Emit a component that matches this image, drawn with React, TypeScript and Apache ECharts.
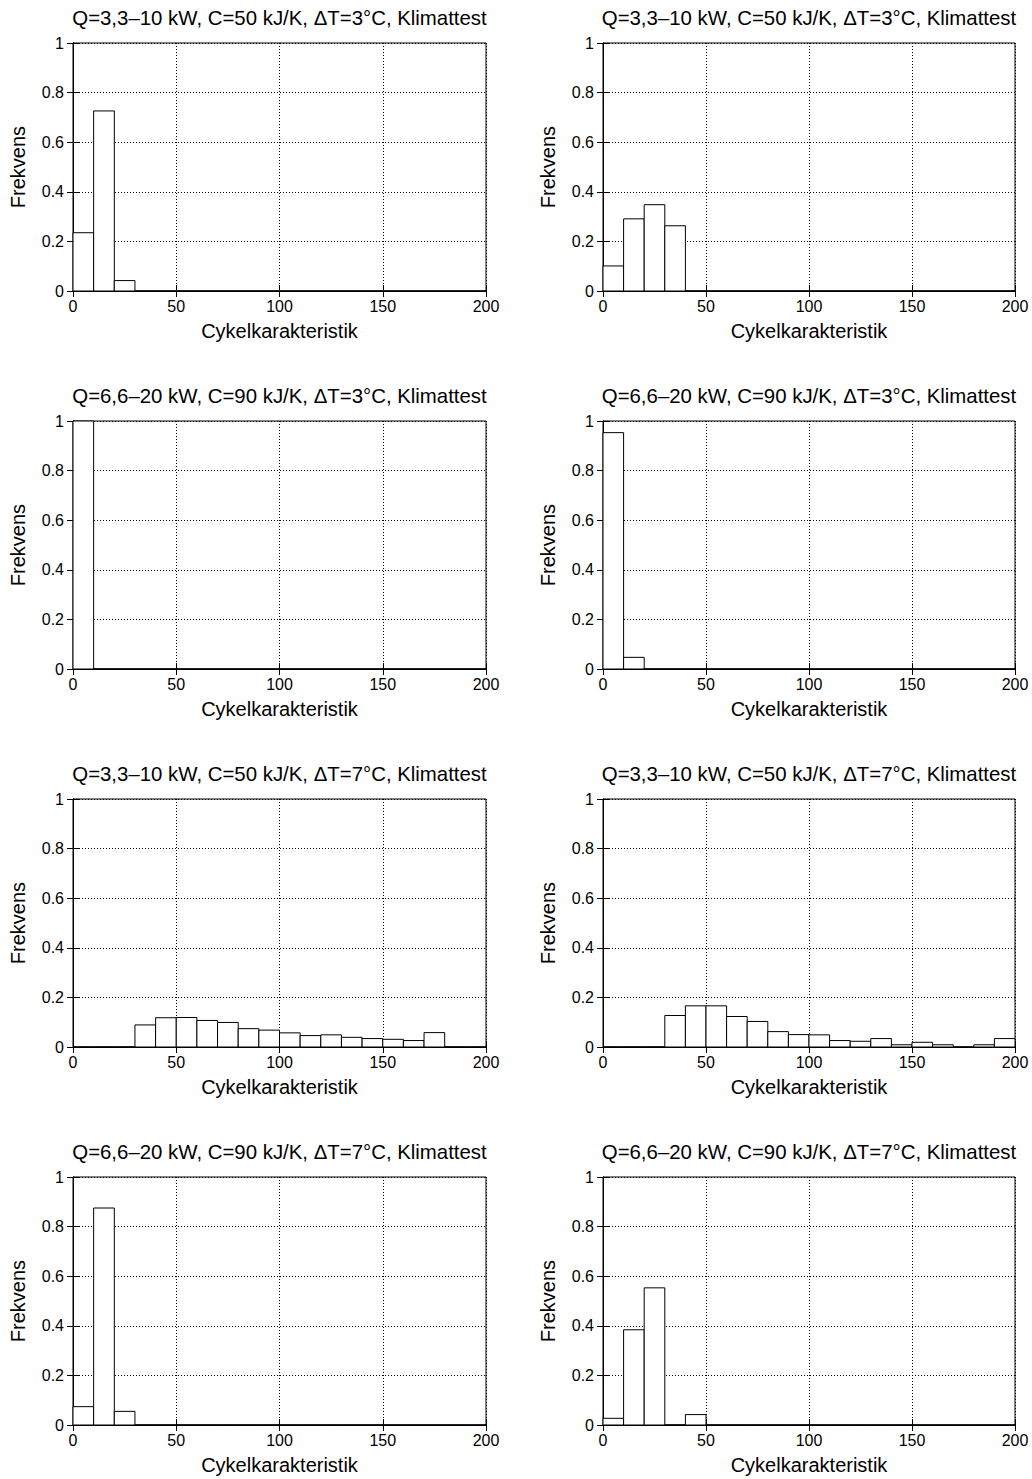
import React, { useEffect, useRef } from "react";
import * as echarts from "echarts";

// Bin edges (Cykelkarakteristik), width 10 from 0 to 200
const BIN_STARTS = [0, 10, 20, 30, 40, 50, 60, 70, 80, 90, 100, 110, 120, 130, 140, 150, 160, 170, 180, 190];
const BIN_WIDTH = 10;

const TITLE_A = "Q=3,3\u201310 kW, C=50 kJ/K, \u0394T=3\u00B0C, Klimattest";
const TITLE_B = "Q=6,6\u201320 kW, C=90 kJ/K, \u0394T=3\u00B0C, Klimattest";
const TITLE_C = "Q=3,3\u201310 kW, C=50 kJ/K, \u0394T=7\u00B0C, Klimattest";
const TITLE_D = "Q=6,6\u201320 kW, C=90 kJ/K, \u0394T=7\u00B0C, Klimattest";

const freq1L = [0.235, 0.726, 0.042, 0, 0, 0, 0, 0, 0, 0, 0, 0, 0, 0, 0, 0, 0, 0, 0, 0];
const freq1R = [0.101, 0.291, 0.348, 0.263, 0, 0, 0, 0, 0, 0, 0, 0, 0, 0, 0, 0, 0, 0, 0, 0];
const freq2L = [1.0, 0, 0, 0, 0, 0, 0, 0, 0, 0, 0, 0, 0, 0, 0, 0, 0, 0, 0, 0];
const freq2R = [0.953, 0.047, 0, 0, 0, 0, 0, 0, 0, 0, 0, 0, 0, 0, 0, 0, 0, 0, 0, 0];
const freq3L = [0, 0, 0, 0.089, 0.118, 0.119, 0.107, 0.099, 0.074, 0.068, 0.057, 0.046, 0.049, 0.039, 0.034, 0.031, 0.026, 0.058, 0, 0];
const freq3R = [0, 0, 0, 0.127, 0.166, 0.166, 0.123, 0.103, 0.062, 0.05, 0.049, 0.026, 0.023, 0.034, 0.009, 0.019, 0.009, 0, 0.009, 0.034];
const freq4L = [0.074, 0.875, 0.055, 0, 0, 0, 0, 0, 0, 0, 0, 0, 0, 0, 0, 0, 0, 0, 0, 0];
const freq4R = [0.027, 0.384, 0.553, 0, 0.042, 0, 0, 0, 0, 0, 0, 0, 0, 0, 0, 0, 0, 0, 0, 0];

const PANELS = [
  { title: TITLE_A, values: freq1L },
  { title: TITLE_A, values: freq1R },
  { title: TITLE_B, values: freq2L },
  { title: TITLE_B, values: freq2R },
  { title: TITLE_C, values: freq3L },
  { title: TITLE_C, values: freq3R },
  { title: TITLE_D, values: freq4L },
  { title: TITLE_D, values: freq4R },
];

const X_NAME = "Cykelkarakteristik";
const Y_NAME = "Frekvens";

const FONT = "'Liberation Sans', Arial, Helvetica, sans-serif";

export default function App() {
  const ref = useRef<HTMLDivElement>(null);

  useEffect(() => {
    document.body.style.margin = "0";
    const chart = echarts.init(ref.current!, null, { renderer: "svg" });

    const lefts = [73, 603];
    const widths = [413, 412];
    const tops = [43, 421, 799, 1177];
    const height = 248;

    const grids: any[] = [];
    const titles: any[] = [];
    const xAxes: any[] = [];
    const yAxes: any[] = [];
    const series: any[] = [];

    PANELS.forEach((p, i) => {
      const col = i % 2;
      const row = Math.floor(i / 2);
      const left = lefts[col];
      const width = widths[col];
      const top = tops[row];
      grids.push({
        left,
        top,
        width,
        height,
        show: true,
        borderColor: "#000",
        borderWidth: 1,
        backgroundColor: "#fff",
      });
      titles.push({
        text: p.title,
        left: left + width / 2,
        top: top - 35,
        padding: 0,
        textAlign: "center",
        textStyle: { fontFamily: FONT, fontSize: 20.4, fontWeight: "normal", color: "#000" },
      });
      const gridIndex = i;
      // main x axis (bottom)
      xAxes.push({
        gridIndex,
        type: "value",
        min: 0,
        max: 200,
        interval: 50,
        position: "bottom",
        name: X_NAME,
        nameLocation: "middle",
        nameGap: 30,
        nameTextStyle: { fontFamily: FONT, fontSize: 20, color: "#000" },
        axisLine: { show: true, lineStyle: { color: "#000", width: 1 } },
        axisTick: { show: true, inside: true, length: 6, lineStyle: { color: "#000" } },
        axisLabel: { fontFamily: FONT, fontSize: 16, color: "#000", margin: 7 },
        splitLine: { show: true, lineStyle: { color: "#000", type: [1, 2], width: 1 } },
      });
      // mirror x axis (top)
      xAxes.push({
        gridIndex,
        type: "value",
        min: 0,
        max: 200,
        interval: 50,
        position: "top",
        axisLine: { show: true, lineStyle: { color: "#000", width: 1 } },
        axisTick: { show: true, inside: true, length: 6, lineStyle: { color: "#000" } },
        axisLabel: { show: false },
        splitLine: { show: false },
      });
      yAxes.push({
        gridIndex,
        type: "value",
        min: 0,
        max: 1,
        interval: 0.2,
        position: "left",
        name: Y_NAME,
        nameLocation: "middle",
        nameGap: 45,
        nameTextStyle: { fontFamily: FONT, fontSize: 20, color: "#000" },
        axisLine: { show: true, lineStyle: { color: "#000", width: 1 } },
        axisTick: { show: true, inside: true, length: 6, lineStyle: { color: "#000" } },
        axisLabel: { fontFamily: FONT, fontSize: 16, color: "#000", margin: 9 },
        splitLine: { show: true, lineStyle: { color: "#000", type: [1, 2], width: 1 } },
      });
      yAxes.push({
        gridIndex,
        type: "value",
        min: 0,
        max: 1,
        interval: 0.2,
        position: "right",
        axisLine: { show: true, lineStyle: { color: "#000", width: 1 } },
        axisTick: { show: true, inside: true, length: 6, lineStyle: { color: "#000" } },
        axisLabel: { show: false },
        splitLine: { show: false },
      });
      const data = BIN_STARTS.map((s, k) => [s, s + BIN_WIDTH, p.values[k]]);
      series.push({
        type: "custom",
        xAxisIndex: i * 2,
        yAxisIndex: i * 2,
        data,
        clip: false,
        renderItem: (params: any, api: any) => {
          const x0 = api.value(0);
          const x1 = api.value(1);
          const y = api.value(2);
          const a = api.coord([x0, y]);
          const b = api.coord([x1, 0]);
          return {
            type: "rect",
            shape: { x: a[0], y: a[1], width: b[0] - a[0], height: b[1] - a[1] },
            style: { fill: "#fff", stroke: "#000", lineWidth: 1 },
          };
        },
      });
    });

    chart.setOption({
      animation: false,
      backgroundColor: "#fff",
      title: titles,
      grid: grids,
      xAxis: xAxes,
      yAxis: yAxes,
      series,
    });

    return () => chart.dispose();
  }, []);

  return <div ref={ref} style={{ width: 1032, height: 1479 }} />;
}
